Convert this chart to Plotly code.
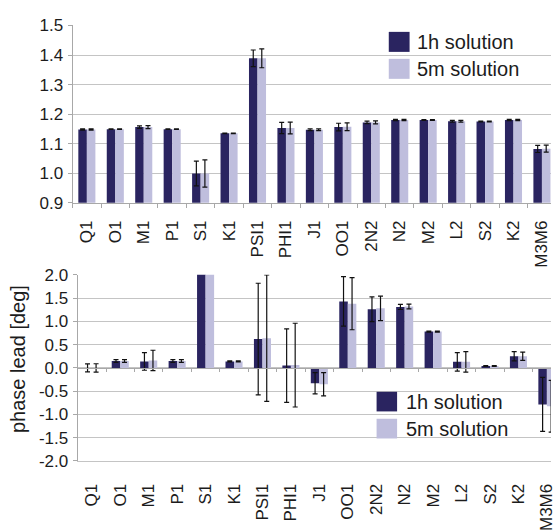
import plotly.graph_objects as go

# Tidal constituents
constituents = ["Q1", "O1", "M1", "P1", "S1", "K1", "PSI1", "PHI1", "J1", "OO1",
                "2N2", "N2", "M2", "L2", "S2", "K2", "M3M6"]

# Amplitude factor, 1h and 5m solutions, with formal errors
amp_1h = [1.148, 1.149, 1.156, 1.149, 0.999, 1.135, 1.389, 1.153, 1.147, 1.156,
          1.172, 1.180, 1.180, 1.176, 1.175, 1.180, 1.082]
amp_1h_err = [0.002, 0.001, 0.004, 0.001, 0.042, 0.001, 0.028, 0.019, 0.003, 0.013,
              0.004, 0.002, 0.001, 0.003, 0.001, 0.002, 0.012]
amp_5m = [1.148, 1.149, 1.156, 1.149, 0.999, 1.135, 1.389, 1.153, 1.147, 1.157,
          1.172, 1.180, 1.180, 1.176, 1.175, 1.180, 1.083]
amp_5m_err = [0.002, 0.001, 0.005, 0.001, 0.046, 0.001, 0.032, 0.020, 0.003, 0.013,
              0.005, 0.002, 0.001, 0.003, 0.001, 0.002, 0.012]

# Phase lead [deg], 1h and 5m solutions, with formal errors
phase_1h = [0.0, 0.15, 0.14, 0.15, 2.4, 0.14, 0.62, 0.05, -0.33, 1.43,
            1.26, 1.31, 0.78, 0.13, 0.04, 0.25, -0.785]
phase_1h_err = [0.085, 0.03, 0.19, 0.03, 0.05, 0.01, 1.20, 0.79, 0.23, 0.53,
                0.265, 0.055, 0.01, 0.20, 0.01, 0.10, 0.58]
phase_5m = [0.0, 0.15, 0.16, 0.15, 2.4, 0.14, 0.64, 0.06, -0.35, 1.38,
            1.28, 1.32, 0.78, 0.13, 0.04, 0.25, -0.825]
phase_5m_err = [0.09, 0.03, 0.22, 0.03, 0.05, 0.01, 1.36, 0.90, 0.25, 0.56,
                0.265, 0.05, 0.01, 0.22, 0.01, 0.09, 0.555]

amp_ticks = [0.9, 1.0, 1.1, 1.2, 1.3, 1.4, 1.5]
amp_ticklabels = ["0.9", "1.0", "1.1", "1.2", "1.3", "1.4", "1.5"]
phase_ticks = [-2.0, -1.5, -1.0, -0.5, 0.0, 0.5, 1.0, 1.5, 2.0]
phase_ticklabels = ["-2.0", "-1.5", "-1.0", "-0.5", "0.0", "0.5", "1.0", "1.5", "2.0"]

series_names = ["1h solution", "5m solution"]

DARK = "#2a2460"
LIGHT = "#bfbedd"
GRID = "#c4c4c4"
AXIS = "#a8a8a8"
TEXT = "#1c1c1c"
FONT = "Liberation Sans, Arial, sans-serif"

W, H = 556, 531


def px_x(v):
    return v / W


def px_y(v):
    return (H - v) / H


def err(vals):
    return dict(type="data", array=vals, visible=True, color="#111111",
                thickness=1.2, width=2.5)


fig = go.Figure()

# Amplitude panel
fig.add_trace(go.Bar(x=constituents, y=amp_1h, error_y=err(amp_1h_err),
                     marker=dict(color=DARK, line=dict(width=0)),
                     name=series_names[0], xaxis="x", yaxis="y"))
fig.add_trace(go.Bar(x=constituents, y=amp_5m, error_y=err(amp_5m_err),
                     marker=dict(color=LIGHT, line=dict(width=0)),
                     name=series_names[1], xaxis="x", yaxis="y"))

# Phase panel
fig.add_trace(go.Bar(x=constituents, y=phase_1h, error_y=err(phase_1h_err),
                     marker=dict(color=DARK, line=dict(width=0)),
                     name=series_names[0], xaxis="x2", yaxis="y2"))
fig.add_trace(go.Bar(x=constituents, y=phase_5m, error_y=err(phase_5m_err),
                     marker=dict(color=LIGHT, line=dict(width=0)),
                     name=series_names[1], xaxis="x2", yaxis="y2"))

# Carrier for the category axis drawn along phase = 0
fig.add_trace(go.Scatter(x=constituents, y=[None] * len(constituents),
                         mode="markers", xaxis="x3", yaxis="y2",
                         showlegend=False, hoverinfo="skip"))

top_range = [-0.5, -0.5 + (W - 73.3) / 28.7]
bot_range = [-0.5, -0.5 + (W - 78.3) / 28.7]

top_y0, top_y1 = px_y(203.3), px_y(17.3)
bot_y0, bot_y1 = px_y(474.3), px_y(279.0)
zero_pos = bot_y0 + (bot_y1 - bot_y0) * 0.5

common_x = dict(type="category", categoryorder="array", categoryarray=constituents,
                showgrid=False, zeroline=False, tickangle=-90,
                tickfont=dict(size=17, color=TEXT, family=FONT))

fig.update_layout(
    width=W, height=H,
    margin=dict(l=0, r=0, t=0, b=0),
    paper_bgcolor="white", plot_bgcolor="white",
    showlegend=False,
    barmode="group", bargap=0.4, bargroupgap=0.0,
    font=dict(family=FONT, color=TEXT),
    xaxis=dict(**common_x, domain=[px_x(73.3), 1.0], anchor="y", range=top_range,
               showline=True, linecolor=AXIS, linewidth=1,
               ticks="outside", tickson="boundaries", ticklen=4, tickcolor=AXIS,
               ticklabelstandoff=10),
    yaxis=dict(domain=[top_y0, top_y1], anchor="x", range=[0.9, 1.5],
               tickvals=amp_ticks, ticktext=amp_ticklabels,
               showgrid=True, gridcolor=GRID, gridwidth=1, zeroline=False,
               showline=True, linecolor=AXIS, linewidth=1,
               ticks="outside", ticklen=4, tickcolor=AXIS,
               tickfont=dict(size=17, color=TEXT, family=FONT),
               ticklabelstandoff=1),
    xaxis2=dict(**common_x, domain=[px_x(78.3), 1.0], anchor="y2", range=bot_range,
                showline=True, linecolor=GRID, linewidth=1, ticks="",
                ticklabelstandoff=15),
    xaxis3=dict(type="category", categoryorder="array", categoryarray=constituents,
                domain=[px_x(78.3), 1.0], anchor="free", position=zero_pos,
                overlaying="x2", range=bot_range,
                showgrid=False, zeroline=False, showticklabels=False,
                showline=True, linecolor=AXIS, linewidth=1,
                ticks="outside", tickson="boundaries", ticklen=3, tickcolor=AXIS),
    yaxis2=dict(domain=[bot_y0, bot_y1], anchor="x2", range=[-2.0, 2.0],
                tickvals=phase_ticks, ticktext=phase_ticklabels,
                showgrid=True, gridcolor=GRID, gridwidth=1, zeroline=False,
                showline=True, linecolor=AXIS, linewidth=1,
                ticks="outside", ticklen=4, tickcolor=AXIS,
                tickfont=dict(size=17, color=TEXT, family=FONT),
                ticklabelstandoff=1),
)

# Legends drawn as swatches + labels
shapes = []
annotations = []


def legend_block(x0, x1, rows, text_x):
    for (ya, yb), color, label in zip(rows, [DARK, LIGHT], series_names):
        shapes.append(dict(type="rect", xref="paper", yref="paper",
                           x0=px_x(x0), x1=px_x(x1), y0=px_y(yb), y1=px_y(ya),
                           fillcolor=color, line=dict(width=0), layer="above"))
        annotations.append(dict(text=label, xref="paper", yref="paper",
                                x=px_x(text_x), y=px_y((ya + yb) / 2),
                                xanchor="left", yanchor="middle", showarrow=False,
                                font=dict(size=20, color=TEXT, family=FONT)))


legend_block(392.3, 413.3, [(24.0, 45.0), (52.3, 73.3)], 418.5)
legend_block(380.0, 400.7, [(401.7, 422.3), (430.0, 450.7)], 407.5)

annotations.append(dict(text="phase lead [deg]", xref="paper", yref="paper",
                        x=px_x(18), y=px_y(367.5), xanchor="center", yanchor="middle",
                        textangle=-90, showarrow=False,
                        font=dict(size=20, color=TEXT, family=FONT)))

fig.update_layout(shapes=shapes, annotations=annotations)

fig.write_html("out.html")
